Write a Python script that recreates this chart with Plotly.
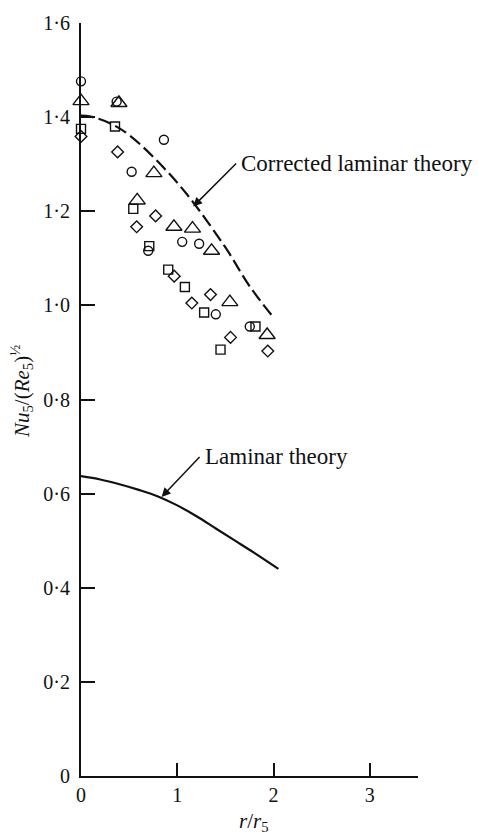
import plotly.graph_objects as go

# Heat-transfer data: Nu5/(Re5)^1/2 against r/r5, four run sets
circle_r = [0.0, 0.37, 0.526, 0.861, 0.698, 1.051, 1.227, 1.40, 1.753]
circle_nu = [1.476, 1.433, 1.284, 1.352, 1.116, 1.135, 1.131, 0.981, 0.955]

triangle_r = [0.0, 0.394, 0.757, 0.584, 0.965, 1.158, 1.356, 1.546, 1.933]
triangle_nu = [1.434, 1.430, 1.281, 1.223, 1.167, 1.163, 1.116, 1.007, 0.937]

square_r = [0.0, 0.353, 0.543, 0.709, 0.906, 1.079, 1.279, 1.449, 1.812]
square_nu = [1.375, 1.380, 1.205, 1.126, 1.076, 1.039, 0.985, 0.906, 0.955]

diamond_r = [0.0, 0.38, 0.775, 0.578, 0.968, 1.151, 1.345, 1.553, 1.94]
diamond_nu = [1.359, 1.326, 1.190, 1.167, 1.062, 1.005, 1.023, 0.932, 0.903]

# Theory curves
corrected_r = [0.0, 0.1, 0.3, 0.5, 0.8, 1.1, 1.5, 1.75, 2.0]
corrected_nu = [1.403, 1.401, 1.387, 1.362, 1.305, 1.236, 1.123, 1.041, 0.974]

laminar_r = [0.0, 0.2, 0.4, 0.6, 0.8, 1.0, 1.2, 1.4, 1.6, 1.8, 2.05]
laminar_nu = [0.637, 0.630, 0.620, 0.608, 0.594, 0.575, 0.552, 0.526, 0.500, 0.474, 0.440]

y_ticks = [0, 0.2, 0.4, 0.6, 0.8, 1.0, 1.2, 1.4, 1.6]
y_tick_text = ["0", "0·2", "0·4", "0·6", "0·8", "1·0", "1·2", "1·4", "1·6"]
x_ticks = [0, 1, 2, 3]
x_tick_text = ["0", "1", "2", "3"]

SERIF = "Liberation Serif, Times New Roman, serif"
INK = "#111111"

fig = go.Figure()

fig.add_trace(go.Scatter(
    x=corrected_r, y=corrected_nu, mode="lines", line_shape="spline",
    line=dict(color=INK, width=2.2, dash="13px,5px"), showlegend=False))
fig.add_trace(go.Scatter(
    x=laminar_r, y=laminar_nu, mode="lines", line_shape="spline",
    line=dict(color=INK, width=2.2), showlegend=False))

for xs, ys, sym, size in [
    (circle_r, circle_nu, "circle-open", 9),
    (triangle_r, triangle_nu, "triangle-up-open", 14),
    (square_r, square_nu, "square-open", 9),
    (diamond_r, diamond_nu, "diamond-open", 9),
]:
    fig.add_trace(go.Scatter(
        x=xs, y=ys, mode="markers", cliponaxis=False, showlegend=False,
        marker=dict(symbol=sym, size=size, color=INK, line=dict(color=INK, width=1.4))))

# Curve labels with leader arrows
fig.add_annotation(x=1.165, y=1.21, text="Corrected laminar theory", showarrow=True,
                   ax=43, ay=-43, xanchor="left", yanchor="middle", borderpad=4,
                   arrowhead=2, arrowsize=1.2, arrowwidth=1.5, arrowcolor=INK,
                   font=dict(family=SERIF, size=23, color=INK))
fig.add_annotation(x=0.837, y=0.593, text="Laminar theory", showarrow=True,
                   ax=38, ay=-40, xanchor="left", yanchor="middle", borderpad=4,
                   arrowhead=2, arrowsize=1.2, arrowwidth=1.5, arrowcolor=INK,
                   font=dict(family=SERIF, size=23, color=INK))

# Axis titles
fig.add_annotation(xref="paper", yref="paper", x=-0.175, y=0.51,
                   text="<i>Nu</i><sub>5</sub>/(<i>Re</i><sub>5</sub>)<sup>½</sup>",
                   textangle=-90, showarrow=False, xanchor="center", yanchor="middle",
                   font=dict(family=SERIF, size=21, color=INK))
fig.add_annotation(xref="x", yref="paper", x=1.8, y=-0.061,
                   text="<i>r</i>/<i>r</i><sub>5</sub>", showarrow=False,
                   xanchor="center", yanchor="middle",
                   font=dict(family=SERIF, size=21, color=INK))

fig.update_xaxes(range=[0, 3.5], tickvals=x_ticks, ticktext=x_tick_text,
                 showgrid=False, zeroline=False, showline=True, linecolor=INK, linewidth=2,
                 ticks="inside", ticklen=13, tickwidth=1.8, tickcolor=INK,
                 tickfont=dict(family=SERIF, size=20, color=INK))
fig.update_yaxes(range=[0, 1.6], tickvals=y_ticks, ticktext=y_tick_text,
                 showgrid=False, zeroline=False, showline=True, linecolor=INK, linewidth=2,
                 ticks="inside", ticklen=14, tickwidth=1.8, tickcolor=INK,
                 ticklabelstandoff=5,
                 tickfont=dict(family=SERIF, size=20, color=INK))

fig.update_layout(width=478, height=838, margin=dict(l=81, r=60, t=14, b=62),
                  plot_bgcolor="white", paper_bgcolor="white")

fig.write_html("out.html")
